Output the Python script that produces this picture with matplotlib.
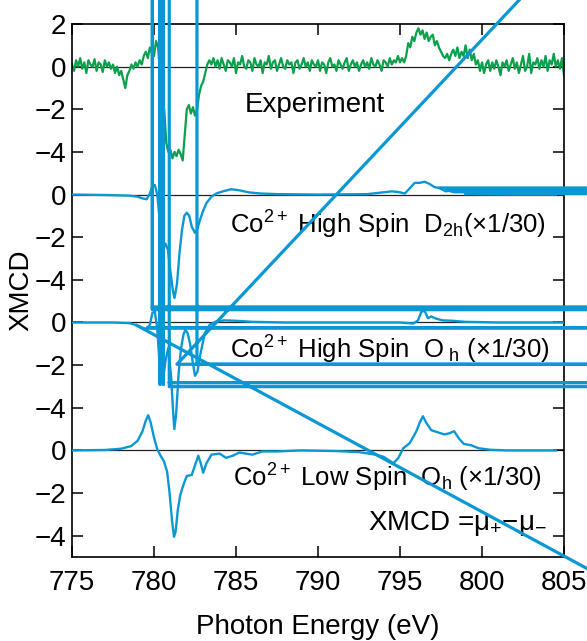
import numpy as np
import matplotlib.pyplot as plt

plt.rcParams['font.family'] = ['Liberation Sans', 'DejaVu Sans']
plt.rcParams['mathtext.fontset'] = 'custom'
plt.rcParams['mathtext.rm'] = 'Liberation Sans'
plt.rcParams['mathtext.it'] = 'Liberation Sans:italic'
plt.rcParams['mathtext.default'] = 'regular'

# experiment (0.125 eV grid, 775 -> 805)
exp_energy = np.arange(775, 805.0001, 0.125)
exp_xmcd = [
    0.1, -0.2, 0.3, 0.0, 0.4, -0.1, 0.2, -0.3, 0.3, 0.1,
    0.0, 0.35, -0.2, 0.2, 0.1, -0.25, 0.3, 0.0, 0.2, -0.1,
    0.1, -0.3, 0.0, -0.4, -0.2, -0.6, -1.0, -0.4, -0.2, 0.1,
    -0.1, 0.2, 0.0, 0.3, 0.1, 0.5, 0.7, 0.4, 0.9, 0.6,
    0.5, 1.2, 0.9, -0.4, -1.7, -2.0, -3.6, -4.0, -3.9, -4.3,
    -4.0, -4.2, -3.9, -4.1, -4.4, -3.2, -2.0, -1.8, -2.2, -1.9,
    -2.3, -2.0, -1.3, -0.9, -0.7, -0.3, 0.1, 0.3, 0.1, 0.4,
    0.0, 0.3, -0.1, 0.4, 0.1, -0.2, 0.3, 0.2, 0.0, 0.4,
    -0.3, 0.2, 0.1, 0.5, 0.0, -0.1, 0.3, 0.2, -0.2, 0.4,
    0.1, 0.0, 0.3, -0.3, 0.2, 0.1, 0.5, -0.1, 0.2, 0.3,
    -0.2, 0.1, 0.4, 0.0, -0.1, 0.3, 0.1, 0.2, -0.3, 0.2,
    0.3, -0.1, 0.1, 0.4, 0.0, 0.2, -0.2, 0.3, 0.1, 0.0,
    0.3, -0.2, 0.2, 0.1, -0.3, 0.2, 0.4, 0.0, 0.1, -0.2,
    0.3, 0.1, -0.1, 0.2, 0.4, -0.2, 0.1, 0.3, 0.0, 0.2,
    -0.2, 0.1, 0.3, 0.0, 0.2, -0.1, 0.4, 0.1, 0.0, 0.3,
    0.1, -0.2, 0.3, 0.2, 0.0, 0.4, 0.1, 0.3, 0.2, 0.5,
    0.2, 0.4, 0.2, 0.5, 1.1, 0.9, 1.4, 1.2, 1.6, 1.8,
    1.5, 1.7, 1.3, 1.6, 1.2, 1.4, 1.5, 1.0, 1.2, 0.9,
    0.7, 0.5, 0.4, 0.6, 0.3, 0.6, 0.8, 0.5, 0.9, 0.4,
    0.7, 0.5, 1.0, 0.4, 0.8, 0.3, 0.6, 0.1, 0.3, -0.2,
    0.2, -0.3, 0.1, 0.3, -0.2, 0.2, -0.1, 0.3, 0.0, -0.4,
    0.2, 0.0, 0.3, -0.2, 0.1, 0.4, -0.1, 0.2, -0.3, 0.1,
    0.5, -0.2, 0.0, 0.6, -0.3, 0.2, 0.1, 0.4, -0.1, 0.3,
    0.0, 0.5, -0.2, 0.3, 0.1, 0.6, 0.0, 0.3, -0.1, 0.4, -0.4,
]

# Co2+ high spin D2h (x1/30)
d2h_energy = [775, 777, 778.5, 779.0, 779.3, 779.55, 779.75, 779.9, 780.05, 780.2,
              780.35, 780.5, 780.6, 780.7, 780.85, 781.0, 781.15, 781.25, 781.4, 781.55,
              781.7, 781.85, 782.0, 782.15, 782.3, 782.5, 782.65, 782.8, 783.0, 783.2,
              783.5, 783.8, 784.2, 784.7, 785.2, 785.8, 786.5, 787.5, 790, 793,
              794.5, 794.9, 795.3, 795.6, 795.9, 796.2, 796.5, 796.8, 797.1, 797.4,
              797.8, 798.1, 798.4, 798.7, 799.2, 800, 802, 804.5]
d2h_xmcd = [0, -0.02, -0.05, -0.1, -0.18, -0.22, 0.05, 0.4, 0.45, 0.0,
            -1.2, -2.3, -2.5, -2.3, -2.6, -3.6, -4.5, -4.85, -4.2, -2.8,
            -1.7, -1.0, -0.85, -1.0, -1.5, -1.8, -1.6, -1.2, -0.75, -0.4,
            -0.1, 0.05, 0.15, 0.25, 0.2, 0.1, 0.05, 0.02, 0.0, 0.02,
            0.15, 0.12, 0.05, 0.3, 0.55, 0.55, 0.6, 0.5, 0.35, 0.3,
            0.15, 0.2, 0.3, 0.15, 0.05, 0.02, 0.0, 0.0]
d2h_tail_energy = [797.4, 815, 815, 797.8, 798.3, 815, 815, 799.0]
d2h_tail_xmcd = [0.32, 0.32, 0.22, 0.22, 0.12, 0.12, 0.03, 0.03]

# Co2+ high spin Oh (x1/30)
oh_energy = [775, 777.5, 778.5, 778.9, 779.3, 779.55, 779.75, 779.9, 780.05, 780.2,
             780.37, 780.57, 780.7, 780.87, 781.05, 781.15, 781.24, 781.35, 781.5, 781.65,
             781.8, 781.92, 782.05, 782.2, 782.35, 782.5, 782.65, 782.85, 783.1, 783.4,
             783.8, 784.3, 785, 786, 788, 792, 795, 795.8, 796.1, 796.3,
             796.5, 796.7, 796.9, 797.2, 797.6, 798.2, 799, 801, 805]
oh_xmcd = [0, 0, -0.03, -0.12, -0.25, -0.3, -0.1, 0.45, 0.5, -0.3,
           -2.3, -2.6, -1.8, -1.2, -2.6, -4.0, -5.0, -4.3, -2.4, -1.2,
           -0.55, -0.35, -0.5, -1.0, -1.8, -2.5, -2.3, -1.4, -0.5, -0.1,
           0.05, 0.1, 0.08, 0.03, 0.0, 0.0, 0.0, -0.05, 0.1, 0.5,
           0.55, 0.2, 0.28, 0.18, 0.1, 0.08, 0.03, 0.0, 0.0]
oh_glitch_energy = [778.96, 815, 815, 779.6, 815, 815, 779.9, 779.9, 815, 815,
                    779.9, 779.9, 779.9, 780.37, 780.37, 780.37, 780.57, 780.57, 780.57, 780.93,
                    780.93, 815, 815, 780.93, 815, 815, 781.4, 815, 815, 782.62,
                    782.62, 815]
oh_glitch_xmcd = [-0.14, -15.11, -0.25, -0.25, -0.25, 0.73, 0.73, 0.6, 0.6, 52,
                  52, 0.65, 52, 52, -2.9, 52, 52, -2.9, 52, 52,
                  -3.01, -3.01, -2.82, -2.82, -2.82, -1.96, -1.96, 25.55, 52, 52,
                  -1.96, -1.96]

# Co2+ low spin Oh (x1/30)
ls_energy = [775, 777, 778.0, 778.6, 779.0, 779.3, 779.5, 779.65, 779.8, 780.0,
             780.2, 780.4, 780.6, 780.8, 780.95, 781.1, 781.22, 781.32, 781.45, 781.6,
             781.8, 782.0, 782.3, 782.5, 782.7, 782.85, 783.0, 783.2, 783.5, 784.0,
             784.4, 784.8, 785.2, 785.6, 786.0, 786.6, 787.5, 789, 791, 792.5,
             793.5, 794.0, 794.6, 794.9, 795.2, 795.6, 796.0, 796.2, 796.4, 796.6,
             796.9, 797.3, 797.7, 798.0, 798.3, 798.6, 798.9, 799.3, 799.8, 800.5,
             801.5, 804.5]
ls_xmcd = [0, 0.02, 0.08, 0.2, 0.45, 0.9, 1.4, 1.65, 1.3, 0.6,
           0.05, -0.25, -0.5, -1.0, -2.0, -3.3, -4.05, -3.8, -2.8, -2.1,
           -1.6, -1.2, -1.15, -0.7, -0.25, -0.6, -1.05, -0.6, -0.2, -0.15,
           -0.35, -0.25, -0.1, -0.15, -0.2, -0.05, -0.05, 0.0, -0.03, -0.08,
           -0.2, -0.3, -0.6, -0.35, 0.1, 0.35, 0.9, 1.3, 1.6, 1.3,
           0.95, 0.85, 0.75, 0.8, 0.9, 0.55, 0.3, 0.25, 0.1, 0.03,
           0.0, 0.0]

ytick_labels = ['2', '0', '−2', '−4', '0', '−2', '−4', '0', '−2', '−4', '0', '−2', '−4']
xticks = [775, 780, 785, 790, 795, 800, 805]

green = '#0aa04c'
blue = '#0a98d4'
offsets = [0, -6, -12, -18]

fig = plt.figure(figsize=(5.87, 6.41), dpi=100)
ax = fig.add_axes([72 / 587, 84 / 641, 492 / 587, 533 / 641])

for off in offsets:
    ax.axhline(off, color='#222222', lw=0.9, zorder=1)

ax.plot(exp_energy, np.array(exp_xmcd) + offsets[0], color=green, lw=1.6, zorder=2)
ax.plot(d2h_energy, np.array(d2h_xmcd) + offsets[1], color=blue, lw=1.7, zorder=3)
ax.plot(d2h_tail_energy, np.array(d2h_tail_xmcd) + offsets[1], color=blue, lw=2.0,
        zorder=3, clip_on=False)
ax.plot(oh_energy, np.array(oh_xmcd) + offsets[2], color=blue, lw=1.7, zorder=3)
ax.plot(oh_glitch_energy, np.array(oh_glitch_xmcd) + offsets[2], color=blue, lw=2.3,
        zorder=4, clip_on=False)
ax.plot(ls_energy, np.array(ls_xmcd) + offsets[3], color=blue, lw=1.7, zorder=3)

ax.set_xlim(775, 805)
ax.set_ylim(-23, 2)
ax.set_xticks(xticks)
ax.set_yticks([2, 0, -2, -4, -6, -8, -10, -12, -14, -16, -18, -20, -22])
ax.set_yticklabels(ytick_labels)
ax.tick_params(direction='in', length=8, width=1.1, labelsize=20,
               top=True, right=True, pad=4)
ax.tick_params(axis='x', pad=9)
for s in ax.spines.values():
    s.set_linewidth(1.2)

ax.set_xlabel('Photon Energy (eV)', fontsize=20, labelpad=13)
ax.set_ylabel('XMCD', fontsize=20, labelpad=0)

ax.text(785.55, -2.11, 'Experiment', fontsize=20, va='baseline')
ax.text(784.63, -7.82, r'Co$^{2+}$ High Spin  D$_{2h}$(×1/30)', fontsize=18.5, va='baseline')
ax.text(784.63, -13.68, r'Co$^{2+}$ High Spin  O$_{\ h}$ (×1/30)', fontsize=18.5, va='baseline')
ax.text(784.82, -19.70, r'Co$^{2+}$ Low Spin  O$_{h}$ (×1/30)', fontsize=18.5, va='baseline')
ax.text(793.05, -21.73, r'XMCD =$\mu_{+}$$-$$\mu_{-}$', fontsize=20, va='baseline')

fig.savefig('out.png', dpi=100)
